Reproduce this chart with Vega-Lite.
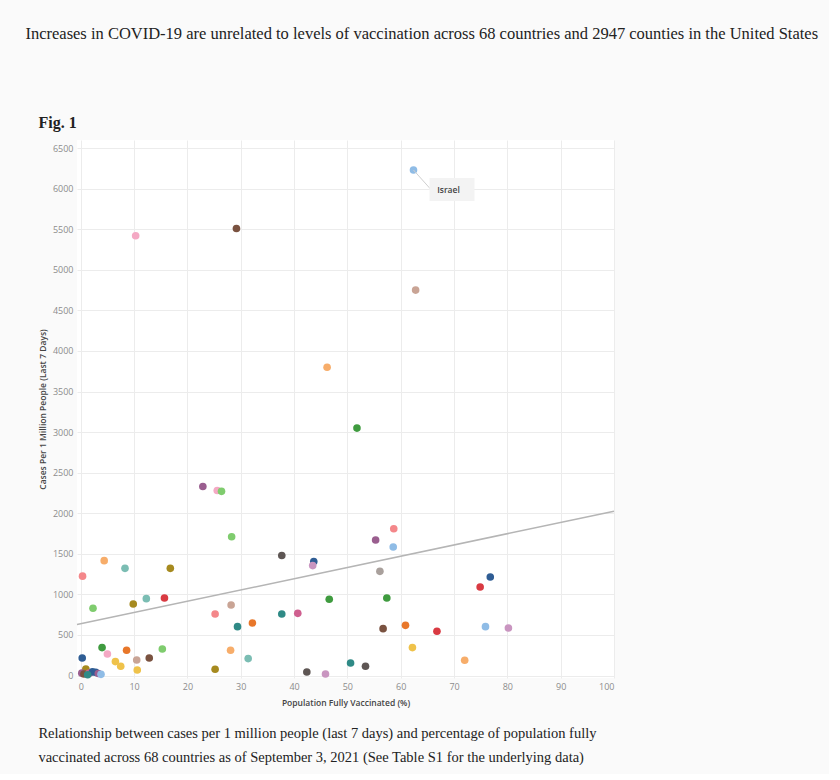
{
  "$schema": "https://vega.github.io/schema/vega-lite/v6.json",
  "background": "#fafafa",
  "padding": {"left": 25, "top": 25, "right": 10, "bottom": 10},
  "title": {
    "text": "Increases in COVID-19 are unrelated to levels of vaccination across 68 countries and 2947 counties in the United States",
    "anchor": "start", "font": "Liberation Serif", "fontSize": 16.5, "fontWeight": "normal",
    "color": "#222222", "dx": -13, "offset": 73
  },
  "config": {
    "view": {"stroke": null, "fill": "#ffffff"},
    "axis": {
      "labelFont": "Open Sans", "labelFontSize": 9, "labelColor": "#8c8c8c",
      "titleFont": "Open Sans", "titleFontSize": 8.5, "titleFontWeight": 600, "titleColor": "#444444",
      "ticks": false, "domain": false, "gridColor": "#ececec", "gridWidth": 1
    }
  },
  "vconcat": [
    {
      "title": {"text": "Fig. 1", "anchor": "start", "font": "Liberation Serif", "fontSize": 16, "fontWeight": "bold", "color": "#222222", "offset": 9},
      "vconcat": [
        {
          "title": {
            "text": ["Relationship between cases per 1 million people (last 7 days) and percentage of population fully", "vaccinated across 68 countries as of September 3, 2021 (See Table S1 for the underlying data)"],
            "orient": "bottom", "anchor": "start", "font": "Liberation Serif", "fontSize": 14.5, "fontWeight": "normal",
            "lineHeight": 24, "offset": 20, "color": "#222222"
          },
          "width": 537,
          "height": 538,
          "data": {"values": [
            {"vaccinated": 10.3, "cases": 5420, "group": "lightpink"},
            {"vaccinated": 29.2, "cases": 5510, "group": "brown"},
            {"vaccinated": 46.2, "cases": 3800, "group": "lightorange"},
            {"vaccinated": 62.4, "cases": 6230, "group": "lightblue", "label": "Israel"},
            {"vaccinated": 62.8, "cases": 4750, "group": "tan"},
            {"vaccinated": 22.9, "cases": 2330, "group": "purple"},
            {"vaccinated": 25.6, "cases": 2280, "group": "lightpink"},
            {"vaccinated": 26.4, "cases": 2270, "group": "lightgreen"},
            {"vaccinated": 28.3, "cases": 1710, "group": "lightgreen"},
            {"vaccinated": 37.7, "cases": 1480, "group": "darkgray"},
            {"vaccinated": 43.7, "cases": 1405, "group": "blue"},
            {"vaccinated": 43.5, "cases": 1355, "group": "lilac"},
            {"vaccinated": 46.6, "cases": 940, "group": "green"},
            {"vaccinated": 0.34, "cases": 1225, "group": "salmon"},
            {"vaccinated": 4.4, "cases": 1416, "group": "lightorange"},
            {"vaccinated": 8.3, "cases": 1321, "group": "lightteal"},
            {"vaccinated": 16.8, "cases": 1321, "group": "olive"},
            {"vaccinated": 2.3, "cases": 829, "group": "lightgreen"},
            {"vaccinated": 9.85, "cases": 882, "group": "olive"},
            {"vaccinated": 12.3, "cases": 948, "group": "lightteal"},
            {"vaccinated": 15.7, "cases": 956, "group": "red"},
            {"vaccinated": 25.2, "cases": 759, "group": "salmon"},
            {"vaccinated": 28.2, "cases": 870, "group": "tan"},
            {"vaccinated": 29.4, "cases": 603, "group": "teal"},
            {"vaccinated": 32.2, "cases": 648, "group": "orange"},
            {"vaccinated": 37.7, "cases": 759, "group": "teal"},
            {"vaccinated": 40.7, "cases": 767, "group": "pink"},
            {"vaccinated": 0.28, "cases": 217, "group": "blue"},
            {"vaccinated": 4.0, "cases": 345, "group": "green"},
            {"vaccinated": 5.0, "cases": 266, "group": "lightpink"},
            {"vaccinated": 6.5, "cases": 172, "group": "yellow"},
            {"vaccinated": 7.5, "cases": 115, "group": "yellow"},
            {"vaccinated": 8.6, "cases": 312, "group": "orange"},
            {"vaccinated": 10.5, "cases": 192, "group": "tan"},
            {"vaccinated": 10.6, "cases": 69, "group": "yellow"},
            {"vaccinated": 12.85, "cases": 217, "group": "brown"},
            {"vaccinated": 15.3, "cases": 328, "group": "lightgreen"},
            {"vaccinated": 25.2, "cases": 78, "group": "olive"},
            {"vaccinated": 28.1, "cases": 312, "group": "lightorange"},
            {"vaccinated": 31.4, "cases": 209, "group": "lightteal"},
            {"vaccinated": 42.4, "cases": 44, "group": "darkgray"},
            {"vaccinated": 45.9, "cases": 20, "group": "lilac"},
            {"vaccinated": 51.8, "cases": 3050, "group": "green"},
            {"vaccinated": 58.7, "cases": 1810, "group": "salmon"},
            {"vaccinated": 55.3, "cases": 1670, "group": "purple"},
            {"vaccinated": 58.6, "cases": 1584, "group": "lightblue"},
            {"vaccinated": 56.1, "cases": 1284, "group": "gray"},
            {"vaccinated": 76.8, "cases": 1215, "group": "blue"},
            {"vaccinated": 74.9, "cases": 1091, "group": "red"},
            {"vaccinated": 57.4, "cases": 956, "group": "green"},
            {"vaccinated": 56.7, "cases": 578, "group": "brown"},
            {"vaccinated": 60.9, "cases": 619, "group": "orange"},
            {"vaccinated": 66.8, "cases": 546, "group": "red"},
            {"vaccinated": 75.9, "cases": 603, "group": "lightblue"},
            {"vaccinated": 80.2, "cases": 586, "group": "lilac"},
            {"vaccinated": 62.2, "cases": 345, "group": "yellow"},
            {"vaccinated": 72.0, "cases": 188, "group": "lightorange"},
            {"vaccinated": 50.6, "cases": 155, "group": "teal"},
            {"vaccinated": 53.4, "cases": 115, "group": "darkgray"},
            {"vaccinated": 0.96, "cases": 81, "group": "olive"},
            {"vaccinated": 0.2, "cases": 30, "group": "purple"},
            {"vaccinated": 0.6, "cases": 20, "group": "brown"},
            {"vaccinated": 1.6, "cases": 30, "group": "pink"},
            {"vaccinated": 2.2, "cases": 45, "group": "blue"},
            {"vaccinated": 2.8, "cases": 40, "group": "blue"},
            {"vaccinated": 3.3, "cases": 25, "group": "purple"},
            {"vaccinated": 3.8, "cases": 15, "group": "lightblue"},
            {"vaccinated": 1.3, "cases": 10, "group": "teal"}
          ]},
          "encoding": {
            "x": {
              "field": "vaccinated", "type": "quantitative",
              "scale": {"domain": [-0.7, 100], "nice": false, "zero": false},
              "axis": {"values": [0, 10, 20, 30, 40, 50, 60, 70, 80, 90, 100], "title": "Population Fully Vaccinated (%)", "labelPadding": 4, "titlePadding": 7}
            },
            "y": {
              "field": "cases", "type": "quantitative",
              "scale": {"domain": [-30, 6600], "nice": false, "zero": false},
              "axis": {"values": [0, 500, 1000, 1500, 2000, 2500, 3000, 3500, 4000, 4500, 5000, 5500, 6000, 6500], "format": "d", "title": "Cases Per 1 Million People (Last 7 Days)", "labelPadding": 4, "titlePadding": 5}
            }
          },
          "layer": [
            {
              "transform": [{"regression": "cases", "on": "vaccinated", "extent": [-0.7, 100]}],
              "mark": {"type": "line", "color": "#b5b5b5", "strokeWidth": 1.5}
            },
            {
              "mark": {"type": "circle", "size": 58, "opacity": 1},
              "encoding": {
                "color": {
                  "field": "group", "type": "nominal", "legend": null,
                  "scale": {
                    "domain": ["blue", "lightblue", "orange", "lightorange", "green", "lightgreen", "olive", "yellow", "teal", "lightteal", "red", "salmon", "darkgray", "gray", "pink", "lightpink", "purple", "lilac", "brown", "tan"],
                    "range": ["#2f5d94", "#8fbce6", "#e8772a", "#f7ad6a", "#3f9b3f", "#7fcc6e", "#a68a1f", "#efc24a", "#2f8a86", "#7bbdb3", "#d93a42", "#f4878a", "#5e5654", "#a9a09c", "#cf5f8f", "#f4a9c4", "#9a5e8f", "#c995c0", "#7a5240", "#c9a495"]
                  }
                }
              }
            },
            {
              "transform": [{"filter": "datum.label"}],
              "mark": {"type": "rule", "color": "#cfcfcf", "strokeWidth": 1, "x2Offset": 17, "y2Offset": 19},
              "encoding": {"x2": {"field": "vaccinated"}, "y2": {"field": "cases"}}
            },
            {
              "transform": [{"filter": "datum.label"}],
              "mark": {"type": "rect", "color": "#f3f3f3", "xOffset": 16, "x2Offset": 61, "yOffset": 8, "y2Offset": 31},
              "encoding": {"x2": {"field": "vaccinated"}, "y2": {"field": "cases"}}
            },
            {
              "transform": [{"filter": "datum.label"}],
              "mark": {"type": "text", "font": "Open Sans", "fontSize": 8.5, "fontWeight": 600, "color": "#444444", "align": "center", "baseline": "middle", "dx": 35, "dy": 20},
              "encoding": {"text": {"field": "label"}}
            }
          ]
        }
      ]
    }
  ]
}
